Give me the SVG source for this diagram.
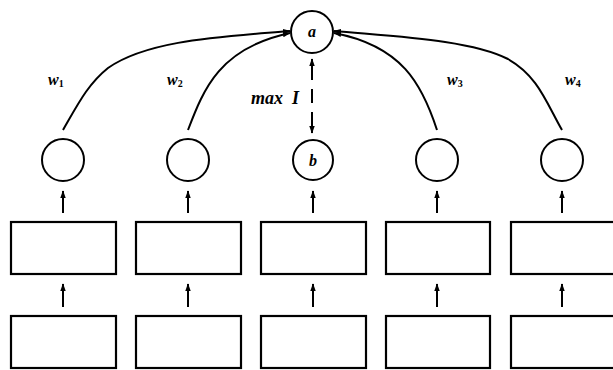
<svg xmlns="http://www.w3.org/2000/svg" width="613" height="370" viewBox="0 0 613 370">
  <style>
    .node { fill: #fff; stroke: #000; stroke-width: 2; }
    .box { fill: #fff; stroke: #000; stroke-width: 2.2; }
    .edge { fill: none; stroke: #000; stroke-width: 2; }
    .lbl { font-family: "Liberation Serif", serif; font-style: italic; font-weight: bold; fill: #000; }
    .sub { font-style: normal; font-size: 10px; }
  </style>
  <defs>
    <marker id="ah" viewBox="0 0 10 10" refX="9" refY="5" markerWidth="4" markerHeight="4" orient="auto" markerUnits="strokeWidth">
      <path d="M0,1.5 L10,5 L0,8.5 Z" fill="#000"/>
    </marker>
  </defs>
  <rect width="613" height="370" fill="#fff"/>

  <!-- connectors -->
  <g id="edges">
    <!-- weighted links into a -->
    <path class="edge" marker-end="url(#ah)" d="M63,130 C78,104 88,84 108,68 C148,40 220,37 290,31"/>
    <path class="edge" marker-end="url(#ah)" d="M188,130 C204,88 220,48 290,33"/>
    <path class="edge" marker-end="url(#ah)" d="M437,130 C422,84 402,46 334,33"/>
    <path class="edge" marker-end="url(#ah)" d="M562,130 C546,102 538,76 508,59 C470,40 400,37 334,31"/>
    <!-- dashed mutual-information link between a and b -->
    <path class="edge" stroke-dasharray="14,9" d="M312,66 L312,128"/>
    <path class="edge" marker-end="url(#ah)" d="M312,70 L312,59"/>
    <path class="edge" marker-end="url(#ah)" d="M312,122 L312,133"/>
    <!-- box to circle -->
    <g marker-end="url(#ah)">
      <path class="edge" d="M63,213 L63,191"/>
      <path class="edge" d="M188,213 L188,191"/>
      <path class="edge" d="M313,213 L313,191"/>
      <path class="edge" d="M437,213 L437,191"/>
      <path class="edge" d="M562,213 L562,191"/>
      <!-- box to box -->
      <path class="edge" d="M63,307 L63,284"/>
      <path class="edge" d="M188,307 L188,284"/>
      <path class="edge" d="M313,307 L313,284"/>
      <path class="edge" d="M437,307 L437,284"/>
      <path class="edge" d="M562,307 L562,284"/>
    </g>
  </g>

  <!-- labels on links -->
  <g id="labels">
    <text class="lbl" x="48" y="85" font-size="16">w<tspan class="sub" dy="2">1</tspan></text>
    <text class="lbl" x="167" y="85" font-size="16">w<tspan class="sub" dy="2">2</tspan></text>
    <text class="lbl" x="447" y="85" font-size="16">w<tspan class="sub" dy="2">3</tspan></text>
    <text class="lbl" x="565" y="85" font-size="16">w<tspan class="sub" dy="2">4</tspan></text>
    <text class="lbl" x="251" y="104" font-size="18" xml:space="preserve">max  I</text>
  </g>

  <!-- top node -->
  <g id="node-a">
    <circle class="node" cx="312" cy="32" r="21"/>
    <text class="lbl" x="312" y="37" font-size="16" text-anchor="middle">a</text>
  </g>

  <!-- middle row of units -->
  <g id="node-c1"><circle class="node" cx="63" cy="160" r="21"/></g>
  <g id="node-c2"><circle class="node" cx="188" cy="160" r="21"/></g>
  <g id="node-b">
    <circle class="node" cx="313" cy="160" r="20"/>
    <text class="lbl" x="313" y="166" font-size="16" text-anchor="middle">b</text>
  </g>
  <g id="node-c4"><circle class="node" cx="437" cy="160" r="21"/></g>
  <g id="node-c5"><circle class="node" cx="562" cy="160" r="21"/></g>

  <!-- upper row of boxes -->
  <g id="box-u1"><rect class="box" x="11" y="222" width="105" height="52"/></g>
  <g id="box-u2"><rect class="box" x="136" y="222" width="105" height="52"/></g>
  <g id="box-u3"><rect class="box" x="261" y="222" width="105" height="52"/></g>
  <g id="box-u4"><rect class="box" x="386" y="222" width="104" height="52"/></g>
  <g id="box-u5"><rect class="box" x="511" y="222" width="104" height="52"/></g>

  <!-- lower row of boxes -->
  <g id="box-l1"><rect class="box" x="11" y="316" width="105" height="52"/></g>
  <g id="box-l2"><rect class="box" x="136" y="316" width="105" height="52"/></g>
  <g id="box-l3"><rect class="box" x="261" y="316" width="105" height="52"/></g>
  <g id="box-l4"><rect class="box" x="386" y="316" width="104" height="52"/></g>
  <g id="box-l5"><rect class="box" x="511" y="316" width="104" height="52"/></g>
</svg>
